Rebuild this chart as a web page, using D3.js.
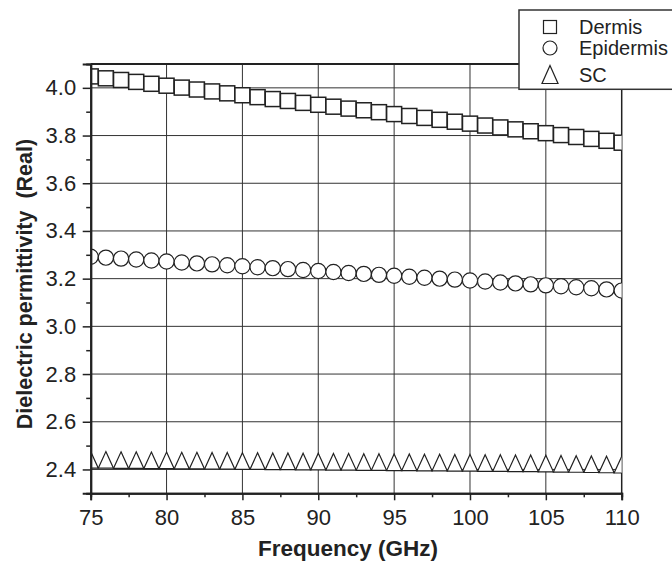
<!DOCTYPE html>
<html>
<head>
<meta charset="utf-8">
<script src="https://cdn.jsdelivr.net/npm/d3@7"></script>
<style>
  body { margin: 0; background: #fff; }
  text { font-family: "Liberation Sans", Arial, sans-serif; fill: #222; }
</style>
</head>
<body>
<script>
const freqs = d3.range(75, 111, 1);

const dermis = [4.048, 4.040, 4.033, 4.025, 4.017, 4.009, 4.001, 3.993, 3.985, 3.977,
  3.969, 3.961, 3.953, 3.945, 3.937, 3.929, 3.921, 3.913, 3.906, 3.898,
  3.890, 3.882, 3.874, 3.866, 3.858, 3.850, 3.842, 3.834, 3.826, 3.818,
  3.810, 3.802, 3.794, 3.786, 3.778, 3.770];

const epidermis = [3.292, 3.288, 3.284, 3.280, 3.276, 3.272, 3.268, 3.264, 3.260, 3.256,
  3.252, 3.248, 3.244, 3.240, 3.236, 3.232, 3.228, 3.224, 3.220, 3.216,
  3.212, 3.208, 3.204, 3.200, 3.196, 3.192, 3.188, 3.184, 3.180, 3.176,
  3.172, 3.168, 3.164, 3.160, 3.155, 3.150];

const sc = [2.440, 2.440, 2.439, 2.439, 2.438, 2.438, 2.437, 2.437, 2.436, 2.436,
  2.435, 2.435, 2.434, 2.434, 2.433, 2.433, 2.432, 2.432, 2.431, 2.431,
  2.430, 2.430, 2.429, 2.429, 2.428, 2.428, 2.427, 2.427, 2.426, 2.426,
  2.425, 2.424, 2.423, 2.422, 2.421, 2.420];

const xTicks = [75, 80, 85, 90, 95, 100, 105, 110];
const xMinor = [77.5, 82.5, 87.5, 92.5, 97.5, 102.5, 107.5];
const yTicks = [2.4, 2.6, 2.8, 3.0, 3.2, 3.4, 3.6, 3.8, 4.0];
const yMinor = [2.3, 2.5, 2.7, 2.9, 3.1, 3.3, 3.5, 3.7, 3.9];
const legendNames = ["Dermis", "Epidermis", "SC"];

const pLeft = 90.7, pRight = 621.7, pTop = 64, pBottom = 493.3;

const svg = d3.select("body").append("svg")
  .attr("width", 672)
  .attr("height", 565);

const x = d3.scaleLinear().domain([75, 110]).range([pLeft, pRight]);
const y = d3.scaleLinear().domain([2.3, 4.1]).range([pBottom, pTop]);

// grid
svg.append("g").selectAll("line").data(xTicks.slice(1, -1))
  .enter().append("line")
  .attr("x1", d => x(d)).attr("x2", d => x(d))
  .attr("y1", pTop).attr("y2", pBottom)
  .attr("stroke", "#333").attr("stroke-width", 1);

svg.append("g").selectAll("line").data(yTicks)
  .enter().append("line")
  .attr("x1", pLeft).attr("x2", pRight)
  .attr("y1", d => y(d)).attr("y2", d => y(d))
  .attr("stroke", "#333").attr("stroke-width", 1);

// frame top / right
svg.append("line").attr("x1", pLeft).attr("x2", pRight).attr("y1", pTop).attr("y2", pTop)
  .attr("stroke", "#222").attr("stroke-width", 2);
svg.append("line").attr("x1", pRight).attr("x2", pRight).attr("y1", pTop).attr("y2", pBottom)
  .attr("stroke", "#222").attr("stroke-width", 1.5);

// markers, clipped to the plot area
svg.append("clipPath").attr("id", "plotclip")
  .append("rect").attr("x", pLeft).attr("y", pTop)
  .attr("width", pRight - pLeft).attr("height", pBottom - pTop);

const gMarks = svg.append("g").attr("clip-path", "url(#plotclip)");

const sq = 15;
gMarks.selectAll(".sq").data(freqs)
  .enter().append("rect")
  .attr("class", "sq")
  .attr("x", (d) => x(d) - sq / 2)
  .attr("y", (d, i) => y(dermis[i]) - sq / 2)
  .attr("width", sq).attr("height", sq)
  .attr("fill", "#fff").attr("stroke", "#222").attr("stroke-width", 1.5);

gMarks.selectAll(".ci").data(freqs)
  .enter().append("circle")
  .attr("class", "ci")
  .attr("cx", (d) => x(d))
  .attr("cy", (d, i) => y(epidermis[i]))
  .attr("r", 7.6)
  .attr("fill", "#fff").attr("stroke", "#222").attr("stroke-width", 1.2);

const tw = 7.6, th = 8.3;
gMarks.selectAll(".tr").data(freqs)
  .enter().append("path")
  .attr("class", "tr")
  .attr("d", (d, i) => {
    const cx = x(d), cy = y(sc[i]);
    return `M${cx},${cy - th}L${cx + tw},${cy + th}L${cx - tw},${cy + th}Z`;
  })
  .attr("fill", "#fff").attr("stroke", "#222").attr("stroke-width", 1.2);

// axes
const xAxis = svg.append("g")
  .attr("transform", `translate(0, ${pBottom})`)
  .call(d3.axisBottom(x).tickValues(xTicks).tickSize(7).tickPadding(9.5).tickFormat(d3.format("d")));
const xMinorAxis = svg.append("g")
  .attr("transform", `translate(0, ${pBottom})`)
  .call(d3.axisBottom(x).tickValues(xMinor).tickSize(4).tickFormat(""));

const yAxis = svg.append("g")
  .attr("transform", `translate(${pLeft}, 0)`)
  .call(d3.axisLeft(y).tickValues(yTicks).tickSize(8).tickPadding(6.5).tickFormat(d3.format(".1f")));
const yMinorAxis = svg.append("g")
  .attr("transform", `translate(${pLeft}, 0)`)
  .call(d3.axisLeft(y).tickValues(yMinor).tickSize(4.5).tickFormat(""));

[xAxis, xMinorAxis, yAxis, yMinorAxis].forEach(g => {
  g.select(".domain").attr("stroke", "#222").attr("stroke-width", 2);
  g.selectAll(".tick line").attr("stroke", "#222").attr("stroke-width", 1.5);
  g.selectAll(".tick text")
    .attr("font-family", "Liberation Sans, Arial, sans-serif")
    .attr("font-size", 22)
    .attr("fill", "#222");
});

// axis titles
svg.append("text")
  .attr("x", 348).attr("y", 556)
  .attr("text-anchor", "middle")
  .attr("font-size", 22.5).attr("font-weight", "bold")
  .text("Frequency (GHz)");

svg.append("text")
  .attr("transform", "translate(32, 284) rotate(-90)")
  .attr("text-anchor", "middle")
  .attr("font-size", 21.5).attr("font-weight", "bold")
  .style("white-space", "pre")
  .text("Dielectric permittivity  (Real)");

// legend
const gLegend = svg.append("g");
gLegend.append("rect")
  .attr("x", 519).attr("y", 10).attr("width", 200).attr("height", 79.3)
  .attr("fill", "#fff").attr("stroke", "#333").attr("stroke-width", 1.5);

const legendY = [27, 48, 74.5];
const lx = 550;
gLegend.append("rect")
  .attr("x", lx - 6.5).attr("y", legendY[0] - 6.5).attr("width", 13).attr("height", 13)
  .attr("fill", "#fff").attr("stroke", "#222").attr("stroke-width", 1.2);
gLegend.append("circle")
  .attr("cx", lx).attr("cy", legendY[1]).attr("r", 7)
  .attr("fill", "#fff").attr("stroke", "#222").attr("stroke-width", 1.2);
gLegend.append("path")
  .attr("d", `M${lx},${legendY[2] - 9}L${lx + 8},${legendY[2] + 9}L${lx - 8},${legendY[2] + 9}Z`)
  .attr("fill", "#fff").attr("stroke", "#222").attr("stroke-width", 1.2);

gLegend.selectAll(".leg-label").data(legendNames)
  .enter().append("text")
  .attr("class", "leg-label")
  .attr("x", 579)
  .attr("y", (d, i) => legendY[i] + 7)
  .attr("font-size", 20)
  .text(d => d);
</script>
</body>
</html>
